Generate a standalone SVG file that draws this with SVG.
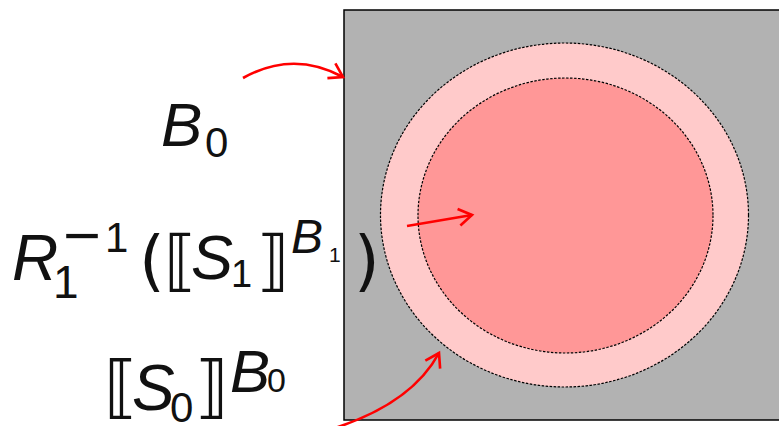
<svg xmlns="http://www.w3.org/2000/svg" width="779" height="426" viewBox="0 0 779 426">
<defs>
<style>
.t{font-family:"Liberation Sans","DejaVu Sans",sans-serif;fill:#111;}
.i{font-style:italic;}
.br{font-family:"DejaVu Sans","Liberation Sans",sans-serif;fill:#111;}
.c{stroke:#000;stroke-width:1.2;stroke-dasharray:2.5 1.5;}
.a{fill:none;stroke:#ff0000;stroke-width:2.6;marker-end:url(#ah);}
</style>
<marker id="ah" viewBox="0 0 10 10" refX="9" refY="5" markerWidth="12" markerHeight="12" markerUnits="userSpaceOnUse" orient="auto" overflow="visible">
<path d="M-2,-2 L9,5 L-2,12" fill="none" stroke="#ff0000" stroke-width="2.2"/>
</marker>
</defs>
<g id="box">
<rect x="344" y="10" width="445" height="410" fill="#b2b2b2" stroke="#000" stroke-width="1.5"/>
</g>
<g id="S0">
<ellipse cx="564.5" cy="215" rx="184" ry="172" fill="#ffcaca" class="c"/>
</g>
<g id="S1">
<ellipse cx="565.5" cy="215.5" rx="147.5" ry="137.5" fill="#ff9797" class="c"/>
</g>
<g id="label-B0">
<text class="t i" x="161" y="146" font-size="62">B</text>
<text class="t" x="205" y="157" font-size="42">0</text>
</g>
<g id="label-R">
<text class="t i" x="12" y="280" font-size="64">R</text>
<text class="t" x="53" y="298" font-size="46">1</text>
<text class="t" x="63" y="256" font-size="60" textLength="38" lengthAdjust="spacingAndGlyphs">−</text>
<text class="t" x="105" y="252" font-size="42">1</text>
<text class="br" x="139" y="283" font-size="66">(</text>
<text class="br" x="164" y="283" font-size="66">⟦</text>
<text class="t i" x="191" y="279" font-size="63">S</text>
<text class="t" x="231" y="287" font-size="38">1</text>
<text class="br" x="257" y="283" font-size="66">⟧</text>
<text class="t i" x="291" y="253" font-size="48">B</text>
<text class="t" x="329" y="262" font-size="21">1</text>
<text class="br" x="354" y="283" font-size="66">)</text>
</g>
<g id="label-S0">
<text class="br" x="104" y="410" font-size="68">⟦</text>
<text class="t i" x="132" y="410" font-size="64">S</text>
<text class="t" x="170" y="422" font-size="42">0</text>
<text class="br" x="195" y="410" font-size="68">⟧</text>
<text class="t i" x="230" y="392" font-size="60">B</text>
<text class="t" x="267" y="392" font-size="34">0</text>
</g>
<g id="connectors">
<path class="a" d="M243,78 Q293,50 343,77"/>
<path class="a" d="M407,226 L472,215"/>
<path class="a" d="M335,428 Q412,403 439,353"/>
</g>
</svg>
